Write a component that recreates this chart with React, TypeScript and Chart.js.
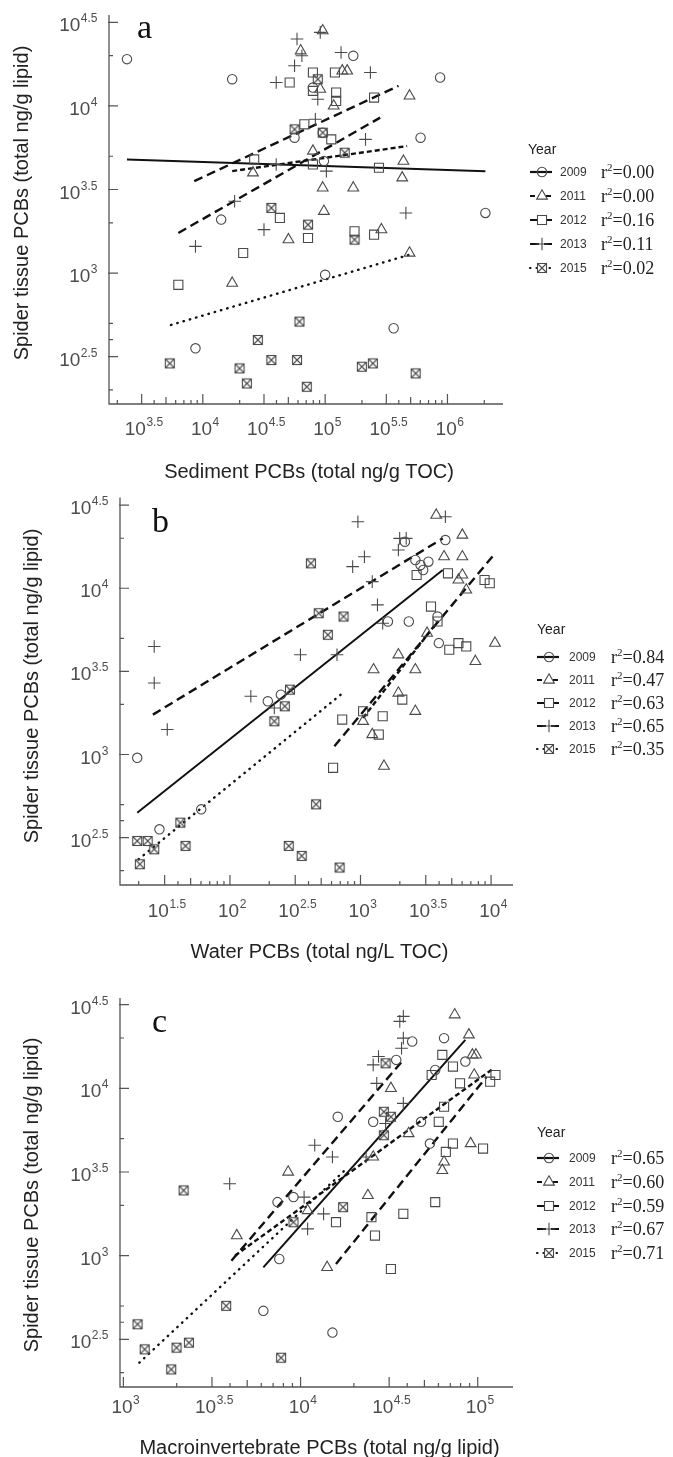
import React, { useEffect, useRef } from 'react';
import { Chart, registerables } from 'chart.js';

Chart.register(...registerables);

type Pt = [number, number];

// ---------- shared categories ----------
const YEARS = ['2009', '2011', '2012', '2013', '2015'];
const MARKERS = ['circle', 'triangle', 'rect', 'cross', 'boxx'];
const DASHES: number[][] = [[], [5, 3], [9, 5], [9, 5], [0.5, 6]];

// ---------- axis tick exponents (log10 units) ----------
const yLabelExps = [2.5, 3, 3.5, 4, 4.5];
const yMinorExps = [2.301, 2.602, 2.699, 3.301, 3.699, 4.301];
const aXLabelExps = [3.5, 4, 4.5, 5, 5.5, 6];
const bXLabelExps = [1.5, 2, 2.5, 3, 3.5, 4];
const cXLabelExps = [3, 3.5, 4, 4.5, 5];
const minorMultipliers = [2, 4, 5, 6, 7, 8, 9];

// ---------- r² labels ----------
const r2A = ['0.00', '0.00', '0.16', '0.11', '0.02'];
const r2B = ['0.84', '0.47', '0.63', '0.65', '0.35'];
const r2C = ['0.65', '0.60', '0.59', '0.67', '0.71'];

// ---------- panel a: sediment (log10 x, log10 y) ----------
const a2009: Pt[] = [[3.38,4.28],[4.24,4.16],[4.75,3.81],[5.23,4.30],[5.94,4.17],[5.78,3.81],[6.31,3.36],[4.15,3.32],[3.94,2.55],[5.00,2.99],[5.56,2.67],[4.90,4.11],[4.98,3.84],[4.99,3.67]];
const a2011: Pt[] = [[4.98,4.45],[4.80,4.33],[5.14,4.21],[5.18,4.21],[4.96,4.10],[5.07,4.00],[5.69,4.06],[4.90,3.73],[4.41,3.60],[4.98,3.51],[5.23,3.51],[5.64,3.67],[5.63,3.57],[4.99,3.37],[4.70,3.20],[5.46,3.26],[5.69,3.12],[4.24,2.94]];
const a2012: Pt[] = [[4.71,4.14],[4.90,4.20],[4.90,4.09],[5.09,4.08],[5.09,4.03],[5.40,4.05],[5.08,4.20],[4.83,3.89],[5.05,3.80],[4.42,3.68],[4.90,3.65],[5.44,3.63],[4.63,3.33],[4.33,3.12],[4.86,3.21],[5.24,3.25],[5.40,3.23],[3.80,2.93]];
const a2013: Pt[] = [[4.77,4.40],[4.96,4.44],[4.81,4.30],[5.13,4.32],[4.75,4.24],[4.60,4.14],[5.37,4.20],[4.94,4.04],[4.92,3.92],[5.33,3.80],[4.60,3.65],[5.01,3.61],[4.26,3.43],[4.50,3.26],[3.94,3.16],[5.66,3.36]];
const a2015: Pt[] = [[4.94,4.16],[4.75,3.86],[4.98,3.84],[5.16,3.72],[4.56,3.39],[4.86,3.29],[5.24,3.20],[4.79,2.71],[4.45,2.60],[3.73,2.46],[4.56,2.48],[4.77,2.48],[4.30,2.43],[4.36,2.34],[4.85,2.32],[5.30,2.44],[5.39,2.46],[5.74,2.40]];
const aFit2009: Pt[] = [[3.38,3.68],[6.31,3.61]];
const aFit2011: Pt[] = [[4.24,3.61],[5.67,3.76]];
const aFit2012: Pt[] = [[3.93,3.55],[5.60,4.12]];
const aFit2013: Pt[] = [[3.80,3.24],[5.45,3.93]];
const aFit2015: Pt[] = [[3.74,2.69],[5.69,3.11]];

// ---------- panel b: water ----------
const b2009: Pt[] = [[1.29,2.98],[1.46,2.55],[1.78,2.67],[2.29,3.32],[2.39,3.36],[3.34,4.28],[3.42,4.17],[3.46,4.14],[3.48,4.11],[3.52,4.16],[3.65,4.29],[3.21,3.80],[3.37,3.80],[3.59,3.83],[3.60,3.67]];
const b2011: Pt[] = [[3.58,4.44],[3.78,4.32],[3.64,4.19],[3.78,4.19],[3.78,4.08],[3.75,4.05],[3.81,3.99],[3.51,3.73],[4.03,3.67],[3.88,3.56],[3.29,3.60],[3.10,3.51],[3.42,3.51],[3.29,3.37],[3.42,3.26],[3.02,3.20],[3.09,3.12],[3.18,2.93]];
const b2012: Pt[] = [[3.43,4.08],[3.67,4.09],[3.95,4.05],[3.99,4.03],[3.54,3.89],[3.59,3.80],[3.68,3.63],[3.75,3.67],[3.81,3.65],[3.32,3.33],[3.02,3.26],[3.17,3.23],[2.86,3.21],[3.14,3.12],[2.79,2.92]];
const b2013: Pt[] = [[2.98,4.40],[3.65,4.43],[3.30,4.30],[3.35,4.30],[3.29,4.23],[3.03,4.19],[2.94,4.13],[3.09,4.04],[3.13,3.90],[1.42,3.65],[1.42,3.43],[1.52,3.15],[2.54,3.60],[2.82,3.60],[2.16,3.35],[2.34,3.28],[3.17,3.79]];
const b2015: Pt[] = [[2.62,4.15],[2.68,3.85],[2.87,3.83],[2.75,3.72],[2.46,3.39],[2.42,3.29],[2.34,3.20],[2.66,2.70],[1.62,2.59],[1.29,2.48],[1.37,2.48],[1.42,2.43],[1.66,2.45],[1.31,2.34],[2.45,2.45],[2.55,2.39],[2.84,2.32]];
const bFit2009: Pt[] = [[1.29,2.65],[3.63,4.11]];
const bFit2011: Pt[] = [[3.02,3.22],[3.59,3.80]];
const bFit2012: Pt[] = [[2.80,3.05],[4.02,4.20]];
const bFit2013: Pt[] = [[1.41,3.24],[3.63,4.30]];
const bFit2015: Pt[] = [[1.30,2.37],[2.88,3.38]];

// ---------- panel c: macroinvertebrates ----------
const c2009: Pt[] = [[3.88,2.98],[3.87,3.32],[3.96,3.35],[4.21,3.83],[4.41,3.80],[4.54,4.17],[4.63,4.28],[4.81,4.30],[4.76,4.11],[4.93,4.16],[4.68,3.80],[4.73,3.67],[3.79,2.67],[4.18,2.54]];
const c2011: Pt[] = [[4.87,4.44],[4.95,4.32],[4.97,4.20],[4.99,4.20],[4.98,4.08],[4.51,4.00],[4.61,3.73],[4.96,3.67],[4.41,3.59],[4.81,3.56],[4.80,3.51],[3.93,3.50],[4.38,3.36],[3.64,3.12],[4.15,2.93],[4.04,3.27]];
const c2012: Pt[] = [[4.80,4.20],[4.86,4.13],[4.74,4.08],[4.90,4.03],[5.07,4.04],[5.10,4.08],[4.81,3.89],[4.78,3.80],[4.86,3.67],[4.82,3.62],[5.03,3.64],[4.76,3.32],[4.58,3.25],[4.40,3.23],[4.20,3.20],[4.42,3.12],[4.51,2.92]];
const c2013: Pt[] = [[4.58,4.43],[4.56,4.40],[4.58,4.30],[4.57,4.24],[4.44,4.19],[4.41,4.14],[4.43,4.03],[4.58,3.91],[4.48,3.79],[4.08,3.66],[4.18,3.59],[3.60,3.43],[4.02,3.35],[4.13,3.25],[4.04,3.16],[4.37,3.59]];
const c2015: Pt[] = [[4.48,4.15],[4.47,3.86],[4.51,3.83],[4.47,3.72],[3.96,3.20],[4.24,3.29],[3.34,3.39],[3.58,2.70],[3.08,2.59],[3.12,2.44],[3.30,2.45],[3.37,2.48],[3.27,2.32],[3.89,2.39]];
const cFit2009: Pt[] = [[3.79,2.93],[4.93,4.29]];
const cFit2011: Pt[] = [[3.63,3.00],[5.09,4.12]];
const cFit2012: Pt[] = [[4.20,2.95],[5.05,4.07]];
const cFit2013: Pt[] = [[3.61,2.97],[4.58,4.17]];
const cFit2015: Pt[] = [[3.09,2.36],[4.25,3.51]];

// ---------- styling ----------
const SANS = '"Liberation Sans", Arial, sans-serif';
const SERIF = '"Liberation Serif", "Times New Roman", serif';
const MARK = '#4a4a4a';
const AXIS = '#555555';
const TICKTXT = '#4d4d4d';
const LINE = '#111111';
const W = 673;

interface Layout {
  top: number; height: number;
  left: number; right: number; plotTop: number; plotBottom: number;
  xMin: number; xMax: number; yMin: number; yMax: number;
  xLabels: number[]; xLabelBase: number;
  xTitle: string; xTitleY: number; yTitleX: number; yTitleY: number;
  letter: string; letterX: number; letterY: number;
  legX: number; legTitleY: number; legRows: number[]; legYearX: number; legR2X: number;
  r2: string[];
  series: Pt[][]; fits: Pt[][];
}

const panels: Layout[] = [
  {
    top: 0, height: 490, left: 109, right: 503, plotTop: 15, plotBottom: 404,
    xMin: 3.233, xMax: 6.454, yMin: 2.217, yMax: 4.544,
    xLabels: aXLabelExps, xLabelBase: 435,
    xTitle: 'Sediment PCBs (total ng/g TOC)', xTitleY: 472, yTitleX: 22, yTitleY: 203,
    letter: 'a', letterX: 137, letterY: 38,
    legX: 528, legTitleY: 150, legRows: [172, 196, 220, 244, 268], legYearX: 560, legR2X: 601,
    r2: r2A,
    series: [a2009, a2011, a2012, a2013, a2015],
    fits: [aFit2009, aFit2011, aFit2012, aFit2013, aFit2015],
  },
  {
    top: 490, height: 500, left: 120, right: 513, plotTop: 495, plotBottom: 885,
    xMin: 1.158, xMax: 4.168, yMin: 2.215, yMax: 4.546,
    xLabels: bXLabelExps, xLabelBase: 917,
    xTitle: 'Water PCBs (total ng/L TOC)', xTitleY: 952, yTitleX: 32, yTitleY: 686,
    letter: 'b', letterX: 152, letterY: 532,
    legX: 537, legTitleY: 630, legRows: [657, 680, 703, 726, 749], legYearX: 569, legR2X: 611,
    r2: r2B,
    series: [b2009, b2011, b2012, b2013, b2015],
    fits: [bFit2009, bFit2011, bFit2012, bFit2013, bFit2015],
  },
  {
    top: 990, height: 467, left: 120, right: 513, plotTop: 998, plotBottom: 1387,
    xMin: 2.981, xMax: 5.199, yMin: 2.215, yMax: 4.540,
    xLabels: cXLabelExps, xLabelBase: 1413,
    xTitle: 'Macroinvertebrate PCBs (total ng/g lipid)', xTitleY: 1448, yTitleX: 32, yTitleY: 1195,
    letter: 'c', letterX: 152, letterY: 1032,
    legX: 537, legTitleY: 1133, legRows: [1158, 1182, 1206, 1229, 1253], legYearX: 569, legR2X: 611,
    r2: r2C,
    series: [c2009, c2011, c2012, c2013, c2015],
    fits: [cFit2009, cFit2011, cFit2012, cFit2013, cFit2015],
  },
];

function makeBoxX(): HTMLCanvasElement {
  const c = document.createElement('canvas');
  c.width = 12; c.height = 12;
  const g = c.getContext('2d')!;
  g.strokeStyle = MARK; g.lineWidth = 1.1;
  g.strokeRect(1.5, 1.5, 9, 9);
  g.beginPath();
  g.moveTo(1.5, 1.5); g.lineTo(10.5, 10.5);
  g.moveTo(10.5, 1.5); g.lineTo(1.5, 10.5);
  g.stroke();
  return c;
}

function drawMarker(ctx: CanvasRenderingContext2D, kind: string, x: number, y: number) {
  ctx.save();
  ctx.setLineDash([]);
  ctx.strokeStyle = MARK; ctx.lineWidth = 1.1;
  ctx.fillStyle = '#fff';
  ctx.beginPath();
  if (kind === 'circle') {
    ctx.arc(x, y, 4.7, 0, Math.PI * 2);
    ctx.stroke();
  } else if (kind === 'triangle') {
    const r = 6.2;
    ctx.moveTo(x, y - r);
    ctx.lineTo(x + r * 0.866, y + r * 0.5);
    ctx.lineTo(x - r * 0.866, y + r * 0.5);
    ctx.closePath();
    ctx.fill(); ctx.stroke();
  } else if (kind === 'rect') {
    ctx.rect(x - 4.5, y - 4.5, 9, 9);
    ctx.fill(); ctx.stroke();
  } else if (kind === 'cross') {
    ctx.moveTo(x - 6.3, y); ctx.lineTo(x + 6.3, y);
    ctx.moveTo(x, y - 6.3); ctx.lineTo(x, y + 6.3);
    ctx.stroke();
  } else {
    ctx.rect(x - 4.5, y - 4.5, 9, 9);
    ctx.fill(); ctx.stroke();
    ctx.beginPath();
    ctx.moveTo(x - 4.5, y - 4.5); ctx.lineTo(x + 4.5, y + 4.5);
    ctx.moveTo(x + 4.5, y - 4.5); ctx.lineTo(x - 4.5, y + 4.5);
    ctx.stroke();
  }
  ctx.restore();
}

function expText(e: number): string {
  return Number.isInteger(e) ? String(e) : e.toFixed(1);
}

function drawPow(ctx: CanvasRenderingContext2D, e: number, x: number, base: number, align: 'center' | 'right') {
  ctx.font = `19px ${SANS}`;
  const wb = ctx.measureText('10').width;
  ctx.font = `12px ${SANS}`;
  const sup = expText(e);
  const ws = ctx.measureText(sup).width;
  const x0 = align === 'center' ? x - (wb + ws) / 2 : x - (wb + ws);
  ctx.fillStyle = TICKTXT;
  ctx.textAlign = 'left';
  ctx.textBaseline = 'alphabetic';
  ctx.font = `19px ${SANS}`;
  ctx.fillText('10', x0, base);
  ctx.font = `12px ${SANS}`;
  ctx.fillText(sup, x0 + wb + 0.5, base - 9);
}

function figurePlugin(p: Layout) {
  return {
    id: 'figure' + p.letter,
    afterDraw(chart: any) {
      const ctx: CanvasRenderingContext2D = chart.ctx;
      const xs = chart.scales.x;
      const ys = chart.scales.y;
      const off = p.top;
      const ca = chart.chartArea;
      ctx.save();
      // axes
      ctx.strokeStyle = AXIS; ctx.lineWidth = 1.3; ctx.setLineDash([]);
      ctx.beginPath();
      ctx.moveTo(ca.left, ca.top); ctx.lineTo(ca.left, ca.bottom); ctx.lineTo(ca.right, ca.bottom);
      ctx.stroke();
      // x ticks
      ctx.lineWidth = 1.2;
      ctx.beginPath();
      for (let n = Math.floor(p.xMin); n <= Math.ceil(p.xMax); n++) {
        for (const k of [1, ...minorMultipliers]) {
          const v = n + Math.log10(k);
          if (v < p.xMin || v > p.xMax) continue;
          const len = k === 1 ? 10 : k === 5 ? 7 : 4;
          const px = xs.getPixelForValue(v);
          ctx.moveTo(px, ca.bottom); ctx.lineTo(px, ca.bottom - len);
        }
      }
      for (const v of p.xLabels) {
        if (Number.isInteger(v)) continue;
        const px = xs.getPixelForValue(v);
        ctx.moveTo(px, ca.bottom); ctx.lineTo(px, ca.bottom - 10);
      }
      // y ticks
      for (const v of yLabelExps) {
        const py = ys.getPixelForValue(v);
        ctx.moveTo(ca.left - 1, py); ctx.lineTo(ca.left + 9, py);
      }
      for (const v of yMinorExps) {
        const py = ys.getPixelForValue(v);
        ctx.moveTo(ca.left, py); ctx.lineTo(ca.left + 4, py);
      }
      ctx.stroke();
      // tick labels
      for (const v of p.xLabels) {
        drawPow(ctx, v, xs.getPixelForValue(v) + 2, p.xLabelBase - off, 'center');
      }
      for (const v of yLabelExps) {
        drawPow(ctx, v, ca.left - 12, ys.getPixelForValue(v) + 9, 'right');
      }
      // titles
      ctx.fillStyle = '#222';
      ctx.font = `20px ${SANS}`;
      ctx.textAlign = 'center';
      ctx.textBaseline = 'middle';
      ctx.fillText(p.xTitle, (ca.left + ca.right) / 2 + 3, p.xTitleY - off);
      ctx.save();
      ctx.translate(p.yTitleX, p.yTitleY - off);
      ctx.rotate(-Math.PI / 2);
      ctx.fillText('Spider tissue PCBs (total ng/g lipid)', 0, 0);
      ctx.restore();
      // panel letter
      ctx.font = `34px ${SERIF}`;
      ctx.fillStyle = '#111';
      ctx.textAlign = 'left';
      ctx.textBaseline = 'alphabetic';
      ctx.fillText(p.letter, p.letterX, p.letterY - off);
      // legend
      ctx.font = `14px ${SANS}`;
      ctx.fillStyle = '#222';
      ctx.textBaseline = 'middle';
      ctx.fillText('Year', p.legX, p.legTitleY - off);
      YEARS.forEach((yr, i) => {
        const ry = p.legRows[i] - off;
        const sx = p.legX + (p.letter === 'a' ? 2 : 0);
        ctx.save();
        ctx.strokeStyle = LINE; ctx.lineWidth = 2.2;
        ctx.setLineDash(DASHES[i]);
        ctx.lineCap = i === 4 ? 'round' : 'butt';
        ctx.beginPath(); ctx.moveTo(sx, ry); ctx.lineTo(sx + 22, ry); ctx.stroke();
        ctx.restore();
        drawMarker(ctx, MARKERS[i], sx + 12, ry);
        ctx.fillStyle = '#333';
        ctx.font = `12px ${SANS}`;
        ctx.textAlign = 'left';
        ctx.textBaseline = 'middle';
        ctx.fillText(yr, p.legYearX, ry + 1);
        ctx.fillStyle = '#222';
        ctx.textBaseline = 'alphabetic';
        ctx.font = `18px ${SERIF}`;
        const rb = ry + 6;
        ctx.fillText('r', p.legR2X, rb);
        const wr = ctx.measureText('r').width;
        ctx.font = `11px ${SERIF}`;
        ctx.fillText('2', p.legR2X + wr, rb - 7);
        const w2 = ctx.measureText('2').width;
        ctx.font = `18px ${SERIF}`;
        ctx.fillText('=' + p.r2[i], p.legR2X + wr + w2, rb);
      });
      ctx.restore();
    },
  };
}

function buildChart(canvas: HTMLCanvasElement, p: Layout, boxx: HTMLCanvasElement) {
  const datasets: any[] = [];
  p.fits.forEach((f, i) => {
    datasets.push({
      data: f.map(([x, y]) => ({ x, y })),
      showLine: true,
      pointRadius: 0,
      borderColor: LINE,
      borderWidth: i === 0 ? 2 : 2.4,
      borderDash: DASHES[i],
      borderCapStyle: i === 4 ? 'round' : 'butt',
      fill: false,
      clip: false,
      order: 1,
    });
  });
  p.series.forEach((s, i) => {
    const kind = MARKERS[i];
    datasets.push({
      data: s.map(([x, y]) => ({ x, y })),
      showLine: false,
      pointStyle: kind === 'boxx' ? boxx : kind,
      pointRadius: kind === 'circle' ? 4.7 : kind === 'triangle' ? 6.2 : kind === 'rect' ? 6.4 : 6.3,
      pointBorderColor: MARK,
      pointBackgroundColor: 'rgba(0,0,0,0)',
      pointBorderWidth: 1.1,
      clip: false,
      order: 0,
    });
  });
  return new Chart(canvas, {
    type: 'scatter',
    data: { datasets },
    options: {
      animation: false,
      responsive: false,
      events: [],
      layout: {
        padding: {
          left: p.left,
          right: W - p.right,
          top: p.plotTop - p.top,
          bottom: p.top + p.height - p.plotBottom,
        },
      },
      plugins: { legend: { display: false }, tooltip: { enabled: false } },
      scales: {
        x: { type: 'linear', min: p.xMin, max: p.xMax, display: false },
        y: { type: 'linear', min: p.yMin, max: p.yMax, display: false },
      },
    },
    plugins: [figurePlugin(p)],
  } as any);
}

export default function App() {
  const r0 = useRef<HTMLCanvasElement>(null);
  const r1 = useRef<HTMLCanvasElement>(null);
  const r2 = useRef<HTMLCanvasElement>(null);
  useEffect(() => {
    const boxx = makeBoxX();
    const refs = [r0, r1, r2];
    const charts = panels.map((p, i) => buildChart(refs[i].current!, p, boxx));
    return () => charts.forEach((c) => c.destroy());
  }, []);
  const refs = [r0, r1, r2];
  return (
    <div style={{ position: 'absolute', left: 0, top: 0, width: W, height: 1457, background: '#fff' }}>
      {panels.map((p, i) => (
        <canvas
          key={p.letter}
          ref={refs[i]}
          width={W}
          height={p.height}
          style={{ position: 'absolute', left: 0, top: p.top, width: W, height: p.height, display: 'block' }}
        />
      ))}
    </div>
  );
}
